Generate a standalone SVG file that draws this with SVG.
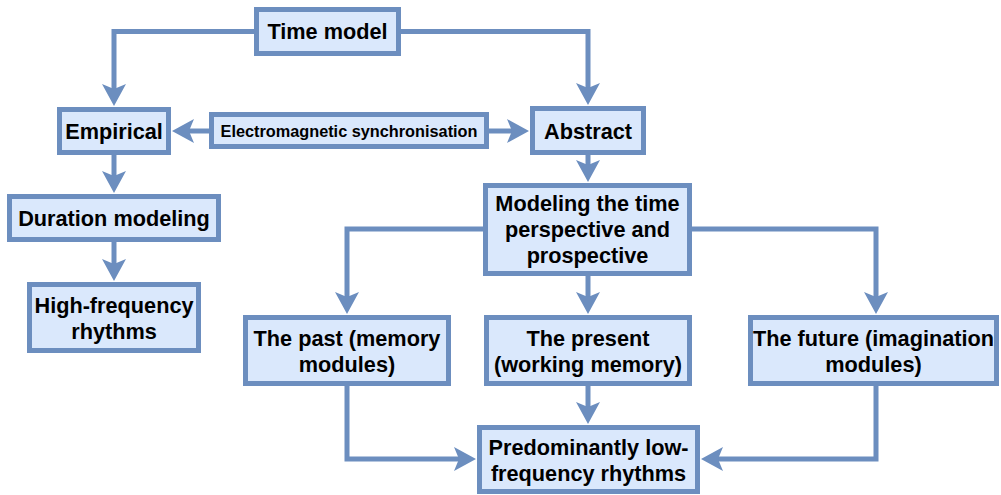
<svg xmlns="http://www.w3.org/2000/svg" width="1001" height="495" viewBox="0 0 1001 495">
  <style>
    .box { fill: #dae8fc; stroke: #6c8ebf; stroke-width: 5; }
    .lbl { font-family: "Liberation Sans", Arial, Helvetica, sans-serif; font-weight: bold; font-size: 21.7px; fill: #000; text-anchor: middle; }
    .small { font-size: 16.3px; }
    .edge { fill: none; stroke: #6c8ebf; stroke-width: 5; stroke-linejoin: miter; }
  </style>
  <defs>
    <marker id="arrow" markerUnits="userSpaceOnUse" markerWidth="24" markerHeight="26" refX="5" refY="12" orient="auto" viewBox="0 0 24 26" overflow="visible">
      <path d="M0,0 L22,12 L0,24 L5,12 Z" fill="#6c8ebf"/>
    </marker>
  </defs>

  <rect width="1001" height="495" fill="#ffffff"/>

  <g id="connectors">
    <path class="edge" d="M256,31.5 H114 V89" marker-end="url(#arrow)"/>
    <path class="edge" d="M399,31.5 H588 V88" marker-end="url(#arrow)"/>
    <path class="edge" d="M209,131 H189" marker-end="url(#arrow)"/>
    <path class="edge" d="M489,131 H512" marker-end="url(#arrow)"/>
    <path class="edge" d="M588,155 V165" marker-end="url(#arrow)"/>
    <path class="edge" d="M114,155 V176" marker-end="url(#arrow)"/>
    <path class="edge" d="M114,242 V264" marker-end="url(#arrow)"/>
    <path class="edge" d="M483,229 H347 V297" marker-end="url(#arrow)"/>
    <path class="edge" d="M692,229 H876 V297" marker-end="url(#arrow)"/>
    <path class="edge" d="M588,276 V297" marker-end="url(#arrow)"/>
    <path class="edge" d="M588,386 V407" marker-end="url(#arrow)"/>
    <path class="edge" d="M347,386 V459 H459" marker-end="url(#arrow)"/>
    <path class="edge" d="M876,386 V459 H718" marker-end="url(#arrow)"/>
  </g>

  <g id="time-model">
    <rect class="box" x="256.5" y="9.5" width="142" height="44"/>
    <text class="lbl" x="327.5" y="39">Time model</text>
  </g>
  <g id="empirical">
    <rect class="box" x="59.5" y="109.5" width="109" height="43"/>
    <text class="lbl" x="114" y="138.5">Empirical</text>
  </g>
  <g id="em-sync">
    <rect class="box" x="211.5" y="114.5" width="275" height="32"/>
    <text class="lbl small" x="349" y="137">Electromagnetic synchronisation</text>
  </g>
  <g id="abstract">
    <rect class="box" x="532.5" y="108.5" width="111" height="44"/>
    <text class="lbl" x="588" y="138.5">Abstract</text>
  </g>
  <g id="modeling">
    <rect class="box" x="485.5" y="185.5" width="204" height="88"/>
    <text class="lbl" x="587.5" y="211">Modeling the time</text>
    <text class="lbl" x="587.5" y="237">perspective and</text>
    <text class="lbl" x="587.5" y="263">prospective</text>
  </g>
  <g id="duration">
    <rect class="box" x="9.5" y="196.5" width="209" height="43"/>
    <text class="lbl" x="114" y="226">Duration modeling</text>
  </g>
  <g id="high-freq">
    <rect class="box" x="29.5" y="284.5" width="169" height="66"/>
    <text class="lbl" x="114" y="313">High-frequency</text>
    <text class="lbl" x="114" y="339">rhythms</text>
  </g>
  <g id="past">
    <rect class="box" x="245.5" y="317.5" width="203" height="66"/>
    <text class="lbl" x="347" y="346">The past (memory</text>
    <text class="lbl" x="347" y="372">modules)</text>
  </g>
  <g id="present">
    <rect class="box" x="486.5" y="317.5" width="203" height="66"/>
    <text class="lbl" x="588" y="346">The present</text>
    <text class="lbl" x="588" y="372">(working memory)</text>
  </g>
  <g id="future">
    <rect class="box" x="750.5" y="317.5" width="246" height="66"/>
    <text class="lbl" x="873.5" y="346">The future (imagination</text>
    <text class="lbl" x="873.5" y="372">modules)</text>
  </g>
  <g id="low-freq">
    <rect class="box" x="479.5" y="427.5" width="218" height="64"/>
    <text class="lbl" x="588.5" y="455">Predominantly low-</text>
    <text class="lbl" x="588.5" y="481">frequency rhythms</text>
  </g>
</svg>
